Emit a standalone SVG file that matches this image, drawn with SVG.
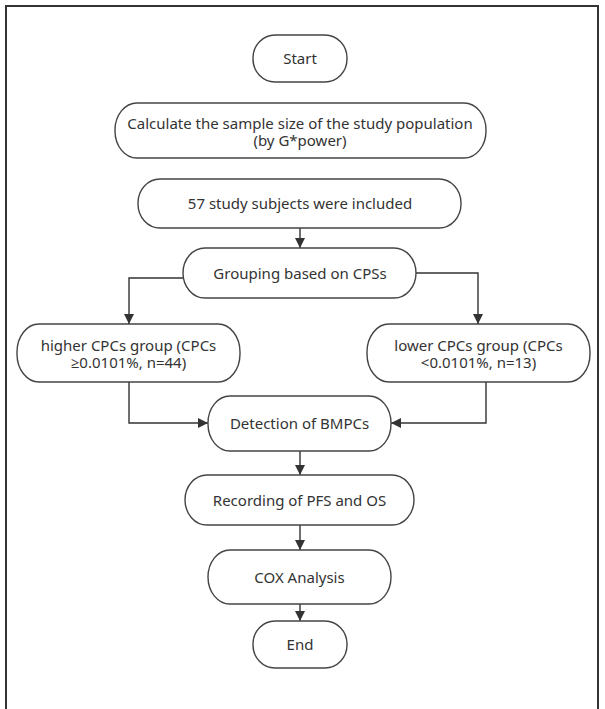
<svg xmlns="http://www.w3.org/2000/svg" width="605" height="709" viewBox="0 0 605 709">
<defs>
<marker id="ah" viewBox="0 0 10 10" refX="10" refY="5" markerWidth="10" markerHeight="10" markerUnits="userSpaceOnUse" orient="auto">
<path d="M0,0 L10,5 L0,10 Z" fill="#333"/>
</marker>
</defs>
<style>
.box{fill:#fff;stroke:#444;stroke-width:1.4}
.t{font-family:"Noto Sans","Open Sans","DejaVu Sans",sans-serif;font-size:15px;fill:#333;text-anchor:middle}
.c{fill:none;stroke:#333;stroke-width:1.4;marker-end:url(#ah)}
</style>
<rect x="0" y="0" width="605" height="709" fill="#fff"/>
<rect x="6" y="6" width="592" height="740" fill="none" stroke="#333" stroke-width="2"/>
<g id="connectors">
<path class="c" d="M300,228 V248"/>
<path class="c" d="M183,278 H129 V324"/>
<path class="c" d="M416,273 H478 V324"/>
<path class="c" d="M129,382 V423 H208"/>
<path class="c" d="M486,382 V423 H391"/>
<path class="c" d="M300,451 V475"/>
<path class="c" d="M300,525 V550"/>
<path class="c" d="M300,604 V621"/>
</g>
<g id="start">
<rect class="box" x="253" y="35" width="94" height="47" rx="22" ry="23"/>
<text class="t" x="300" y="64">Start</text>
</g>
<g id="calc">
<rect class="box" x="115" y="103" width="371" height="55" rx="22" ry="27"/>
<text class="t" x="300" y="129">Calculate the sample size of the study population</text>
<text class="t" x="300" y="145.5">(by G*power)</text>
</g>
<g id="included">
<rect class="box" x="138" y="179" width="323" height="49" rx="22" ry="24"/>
<text class="t" x="300" y="209">57 study subjects were included</text>
</g>
<g id="grouping">
<rect class="box" x="183" y="248" width="233" height="50" rx="22" ry="25"/>
<text class="t" x="300" y="278.5">Grouping based on CPSs</text>
</g>
<g id="higher">
<rect class="box" x="17" y="324" width="223" height="58" rx="22" ry="28"/>
<text class="t" x="128.5" y="351">higher CPCs group (CPCs</text>
<text class="t" x="128.5" y="368">≥0.0101%, n=44)</text>
</g>
<g id="lower">
<rect class="box" x="367" y="324" width="223" height="58" rx="22" ry="28"/>
<text class="t" x="478.5" y="351">lower CPCs group (CPCs</text>
<text class="t" x="478.5" y="368">&lt;0.0101%, n=13)</text>
</g>
<g id="detection">
<rect class="box" x="208" y="396" width="183" height="55" rx="22" ry="27"/>
<text class="t" x="299.5" y="429">Detection of BMPCs</text>
</g>
<g id="recording">
<rect class="box" x="185" y="475" width="229" height="50" rx="22" ry="25"/>
<text class="t" x="299.5" y="506">Recording of PFS and OS</text>
</g>
<g id="cox">
<rect class="box" x="208" y="550" width="183" height="54" rx="22" ry="27"/>
<text class="t" x="299.5" y="582.5">COX Analysis</text>
</g>
<g id="end">
<rect class="box" x="253" y="621" width="94" height="47" rx="22" ry="23"/>
<text class="t" x="300" y="650">End</text>
</g>
</svg>
